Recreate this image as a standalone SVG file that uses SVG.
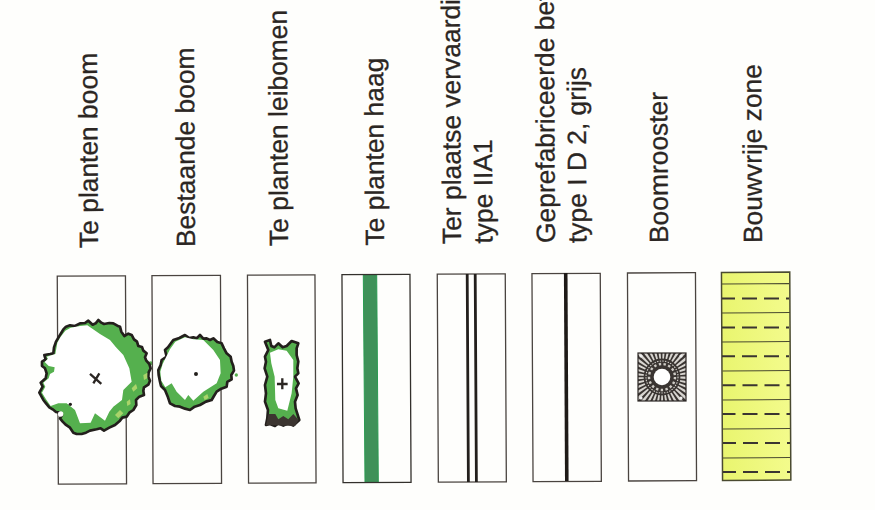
<svg xmlns="http://www.w3.org/2000/svg" width="875" height="510" viewBox="0 0 875 510">
<style>
.l{font-family:"Liberation Sans",Arial,sans-serif;font-size:26.4px;fill:#2b2623;stroke:#2b2623;stroke-width:.3}
.b{fill:none;stroke:#4a4440;stroke-width:1.3}
.o{stroke:#231f1c;stroke-width:8;stroke-linejoin:round;fill:#55b04e}
.w{fill:#fff}
.k{stroke:#231f1c;stroke-width:2.8;fill:none}
.d{stroke:#3a3531;stroke-width:2;stroke-dasharray:13 7 15 7 15 7 6}
.h{stroke:#4a4a30;stroke-width:1.1}
.c{stroke:#2b2623;stroke-width:7;fill:none}
.s{fill:#a9d46a}
</style>
<defs>
<linearGradient id="yl" x1="0" y1="0" x2="1" y2="0"><stop offset="0" stop-color="#e9f56f"/><stop offset="1" stop-color="#f3fb8c"/></linearGradient>
<clipPath id="sq"><rect x="638" y="353" width="48" height="48"/></clipPath>
</defs>
<rect width="875" height="510" fill="#fefefc"/>

<g id="te-planten-boom">
<rect class="b" x="57.800" y="276" width="68.200" height="208" transform="rotate(-.3 92 380)"/>
<g transform="translate(30 260) scale(.3333)">
<circle cx="362" cy="310" r="6" fill="#55b04e"/>
<path class="o" d="M100 208L108 200 120 196 135 198 150 190 165 189 175 182 188 194 197 190 205 180 214 188 222 192 238 189 250 190 262 197 270 200 274 215 283 228 295 221 305 225 312 238 321 245 325 258 336 261 340 272 350 280 345 292 349 302 358 312 362 325 356 337 355 350 360 362 355 374 342 382 340 392 342 405 328 410 318 420 319 435 310 450 298 458 290 470 277 473 270 482 255 495 238 503 222 512 212 505 200 508 180 512 168 518 155 522 140 522 130 518 120 503 108 495 98 485 90 475 96 465 90 458 78 456 68 448 58 442 48 430 40 420 28 398 38 380 32 368 47 355 50 340 45 325 36 318 36 305 47 298 43 285 60 282 70 280 72 262 78 245 90 225Z"/>
<path class="w" d="M76 282 82 248 92 230 106 212 122 203 150 198 172 196 185 205 210 222 240 240 258 262 280 285 298 325 305 365 280 390 276 420 250 440 238 455 225 482 195 460 182 488 150 490 135 450 110 430 85 430 62 438 48 418 36 398 46 380 40 368 56 355 60 342 72 335 74 322 56 318 44 306 54 296 50 290Z"/>
<path class="s" d="M305 385 318 372 322 385 310 395ZM340 345 352 338 352 355 342 360ZM255 465 270 450 280 460 265 475ZM290 425 300 418 302 432 292 438Z"/>
<path d="M180 342 214 372M208 340 190 370" class="c"/>
<circle cx="121" cy="433" r="5" fill="#231f1c"/>
<circle cx="92" cy="462" r="8" fill="#fff"/>
</g>
</g>

<g id="bestaande-boom">
<rect class="b" x="152.500" y="275.500" width="68.500" height="208" transform="rotate(-.3 187 380)"/>
<g transform="translate(30 260) scale(.3333)">
<circle cx="619" cy="345" r="5" fill="#55b04e"/>
<path class="o" d="M405 270 414 262 430 240 448 234 465 225 478 234 490 232 500 235 510 225 520 236 530 235 540 240 550 235 562 246 575 250 582 265 590 280 602 290 605 305 610 318 612 332 604 345 605 358 592 366 590 380 574 386 560 395 552 408 545 420 528 425 510 435 494 440 480 450 465 446 450 440 435 438 420 430 414 412 405 390 393 378 390 365 386 345 385 330 392 315 395 300 410 290Z"/>
<path class="w" d="M408 292 420 268 436 245 465 232 490 238 520 240 550 270 570 300 572 340 560 370 520 395 490 422 475 405 465 420 440 395 425 370 406 382 394 362 391 335 398 312Z"/>
<path class="s" d="M520 410 532 402 536 414 524 420Z"/>
<circle cx="498" cy="342" r="6" fill="#231f1c"/>
</g>
</g>

<g id="te-planten-leibomen">
<rect class="b" x="248" y="275" width="67.500" height="208" transform="rotate(-.3 282 379)"/>
<g transform="translate(30 260) scale(.3333)">
<path class="o" d="M705 245 720 240 724 258 733 262 745 250 758 262 770 258 785 243 805 250 800 265 800 285 805 305 802 325 805 340 795 350 806 370 798 385 803 405 795 425 797 445 808 480 790 497 775 490 760 497 745 490 735 498 720 492 708 495 712 475 714 450 705 425 708 400 705 375 712 350 704 325 708 305 705 290 715 270Z"/>
<path class="w" d="M720 278 745 268 770 272 790 300 790 350 785 400 772 452 745 445 736 420 734 350 724 310Z"/>
<path d="M708 495 716 462 736 462 745 478 760 468 775 478 790 462 806 480 795 498Z" fill="#3c3530"/>
<path d="M757 355V388M741 372H773" class="c"/>
</g>
</g>

<g id="te-planten-haag">
<polygon points="363.300,274.500 376.700,274.500 378.300,482.500 365,482.500" fill="#3f9159" stroke="#2a9c52" stroke-width="1"/>
<rect class="b" x="342.500" y="274.500" width="68" height="208" transform="rotate(-.3 376 378)" style="stroke:#33302c"/>
</g>

<g id="ter-plaatse">
<rect class="b" x="437.800" y="274" width="68" height="208" transform="rotate(-.3 471 378)"/>
<path class="k" d="M467.200 274 468.400 482M475.200 274 476.400 482"/>
</g>

<g id="geprefabriceerde">
<rect class="b" x="532.500" y="273.500" width="68.300" height="208" transform="rotate(-.3 566 377)"/>
<path d="M565.700 273 566.800 481" stroke="#1e1a17" stroke-width="3.600" fill="none"/>
</g>

<g id="boomrooster">
<rect class="b" x="628" y="272.800" width="68" height="208" transform="rotate(-.3 662 377)"/>
<rect x="638" y="353" width="48" height="48" fill="#3a3532"/>
<g clip-path="url(#sq)" fill="none">
<circle cx="662" cy="377" r="25" stroke="#d8d5d0" stroke-width="20" stroke-dasharray="2.200 2"/>
<circle cx="662" cy="377" r="13" stroke="#3a3532" stroke-width="5"/>
<circle cx="662" cy="377" r="13" stroke="#cfccc6" stroke-width="2.400" stroke-dasharray="2.400 2.400"/>
<circle cx="662" cy="377" r="17.500" stroke="#3a3532" stroke-width="1.800"/>
</g>
<rect x="638" y="353" width="48" height="48" fill="none" stroke="#2b2623" stroke-width="1.200"/>
<circle cx="662" cy="377" r="8.300" fill="#fff"/>
<circle cx="641" cy="356" r="1.600" fill="#eee"/><circle cx="681" cy="356" r="1.600" fill="#eee"/><circle cx="641" cy="398" r="1.600" fill="#eee"/><circle cx="681" cy="398" r="1.600" fill="#eee"/>
</g>

<g id="bouwvrije-zone">
<rect x="722" y="272.300" width="68.300" height="208" transform="rotate(-.3 756 376)" fill="url(#yl)" stroke="#4a4a30" stroke-width="1.500"/>
<path class="h" d="M722 284 789 283.600M722 313 790 312.500M722 342 790 341.500M722.500 371 790 370.500M722.500 400 790 399.500M723 429 790 428.500M723 458 790 457.500"/>
<path class="d" d="M722 298.500H789M722 327.500H789M722 356.200H789M722.500 385.200H790M722.500 414H790M723 443H790M723 472H790"/>
</g>

<g id="labels">
<text class="l" transform="translate(98 248) rotate(-90.3)">Te planten boom</text>
<text class="l" transform="translate(195 247) rotate(-90.3)">Bestaande boom</text>
<text class="l" transform="translate(288 246) rotate(-90.3)">Te planten leibomen</text>
<text class="l" transform="translate(384 245.500) rotate(-90.3)">Te planten haag</text>
<text class="l" transform="translate(461 244) rotate(-90.3)">Ter plaatse vervaardi</text>
<text class="l" transform="translate(492.500 243.500) rotate(-90.3)">type IIA1</text>
<text class="l" transform="translate(555 243) rotate(-90.3)">Geprefabriceerde bet</text>
<text class="l" transform="translate(586.500 243) rotate(-90.3)">type I D 2, grijs</text>
<text class="l" transform="translate(668 243) rotate(-90.3)">Boomrooster</text>
<text class="l" transform="translate(762 243) rotate(-90.3)">Bouwvrije zone</text>
</g>
</svg>
